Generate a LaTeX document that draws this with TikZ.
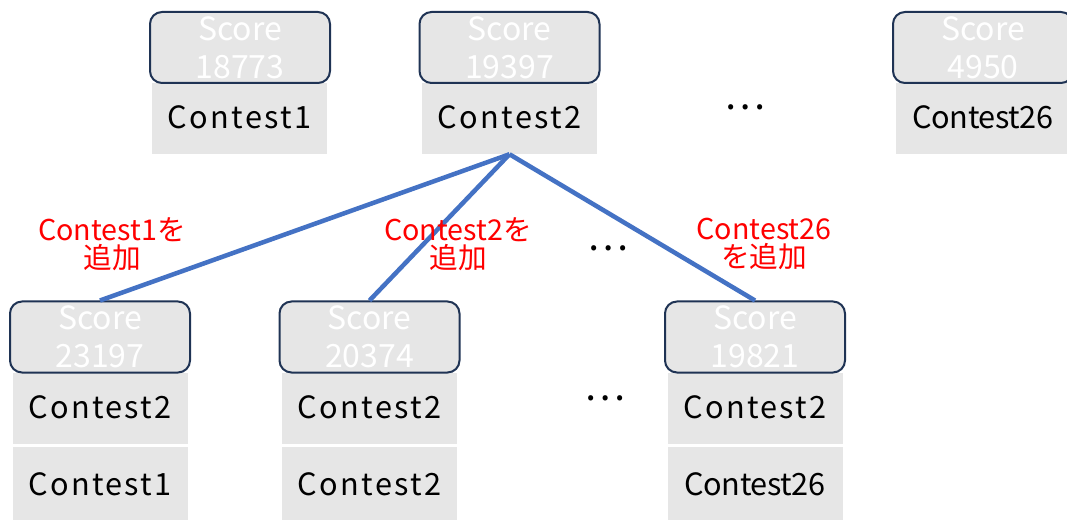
\documentclass[tikz,border=0pt]{standalone}
\usepackage{fontspec}
\setmainfont{Noto Sans CJK JP}
\newfontfamily\spaced[LetterSpace=7.5]{Noto Sans CJK JP}
\newfontfamily\semispaced[LetterSpace=-1.4]{Noto Sans CJK JP}
\definecolor{cellgray}{HTML}{E6E6E6}
\definecolor{navy}{HTML}{1F3354}
\definecolor{linkblue}{HTML}{4472C4}
\begin{document}
\begin{tikzpicture}[x=0.75pt,y=-0.75pt,
  cell/.style={fill=cellgray, minimum width=131.25pt, minimum height=53.25pt, inner sep=0pt, font=\fontsize{23}{26}\selectfont},
  score/.style={fill=cellgray, draw=navy, line width=1.5pt, rounded corners=9pt, minimum width=135pt, minimum height=53.25pt, text=white, align=center, inner sep=0pt, font=\fontsize{24}{28.5}\selectfont},
  lab/.style={text=red, align=center, inner sep=0pt, font=\fontsize{21.5}{21}\selectfont},
  dots/.style={inner sep=0pt, font=\fontsize{29}{29}\selectfont},
  link/.style={draw=linkblue, line width=3.4pt}]
\clip (0,0) rectangle (1067,520);
% top row
\node[cell] (t1c) at (239.5,118.5) {\raisebox{2pt}{\spaced Contest1}};
\node[score] (t1s) at (240,47.5) {Score\\18773};
\node[cell] (t2c) at (509.5,118.5) {\raisebox{2pt}{\spaced Contest2}};
\node[score] (t2s) at (509.5,47.5) {Score\\19397};
\node[cell] (t3c) at (983,118.5) {\raisebox{2pt}{\semispaced Contest26}};
\node[score] (t3s) at (983,47.5) {Score\\4950};
\node[dots] (d1) at (745,107) {…};
% bottom row
\node[cell] (b1c1) at (100,408.5) {\raisebox{2pt}{\spaced Contest2}};
\node[cell, minimum height=55.5pt] (b1c2) at (100,484) {\spaced Contest1};
\node[score] (b1s) at (100,337) {Score\\23197};
\node[cell] (b2c1) at (369.5,408.5) {\raisebox{2pt}{\spaced Contest2}};
\node[cell, minimum height=55.5pt] (b2c2) at (369.5,484) {\spaced Contest2};
\node[score] (b2s) at (369.5,337) {Score\\20374};
\node[cell] (b3c1) at (755,408.5) {\raisebox{2pt}{\spaced Contest2}};
\node[cell, minimum height=55.5pt] (b3c2) at (755,484) {\semispaced Contest26};
\node[score] (b3s) at (755,337) {Score\\19821};
\node[dots] (d2) at (608,248) {…};
\node[dots] (d3) at (605,398) {…};
% links
\draw[link] (t2c.south) -- (b1s.north);
\draw[link] (t2c.south) -- (b2s.north);
\draw[link] (t2c.south) -- (b3s.north);
% labels
\node[lab] (l1) at (112,244) {Contest1を\\追加};
\node[lab] (l2) at (458,244) {Contest2を\\追加};
\node[lab] (l3) at (764,244) {Contest26\\を追加};
\end{tikzpicture}
\end{document}
